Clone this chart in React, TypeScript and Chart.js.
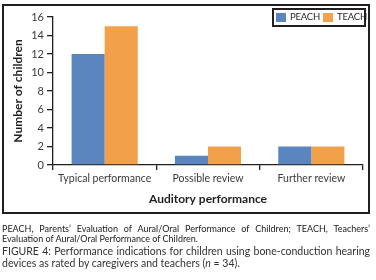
import React, { useEffect, useRef } from "react";
import { Chart, registerables } from "chart.js";

Chart.register(...registerables);

const categories = ["Typical performance", "Possible review", "Further review"];
const seriesNames = ["PEACH", "TEACH"];
const peachValues = [12, 1, 2];
const teachValues = [15, 2, 2];
const seriesColors = ["#5b85bf", "#f2a04a"];
const yMin = 0;
const yMax = 16;
const yStep = 2;
const xTitle = "Auditory performance";
const yTitle = "Number of children";

const FONT = "Lato, 'Open Sans', sans-serif";
const INK = "#231f20";

export default function App() {
  const canvasRef = useRef<HTMLCanvasElement | null>(null);

  useEffect(() => {
    const canvas = canvasRef.current;
    if (!canvas) return;
    const chart = new Chart(canvas, {
      type: "bar",
      data: {
        labels: categories,
        datasets: [
          {
            label: seriesNames[0],
            data: peachValues,
            backgroundColor: seriesColors[0],
            borderWidth: 0,
            categoryPercentage: 0.64,
            barPercentage: 1,
          },
          {
            label: seriesNames[1],
            data: teachValues,
            backgroundColor: seriesColors[1],
            borderWidth: 0,
            categoryPercentage: 0.64,
            barPercentage: 1,
          },
        ],
      },
      options: {
        animation: false,
        responsive: false,
        maintainAspectRatio: false,
        devicePixelRatio: 1,
        layout: { padding: { left: 0, right: 13, top: 17, bottom: 0 } },
        plugins: {
          legend: { display: false },
          tooltip: { enabled: false },
        },
        scales: {
          x: {
            grid: {
              display: true,
              drawOnChartArea: false,
              drawTicks: true,
              tickLength: 5,
              color: INK,
              lineWidth: 1.3,
              offset: true,
            },
            border: { display: true, color: INK, width: 1.3 },
            ticks: {
              font: { family: FONT, size: 10.5 },
              color: "#3a3a3a",
              padding: 2,
              maxRotation: 0,
              autoSkip: false,
            },
            title: {
              display: true,
              text: xTitle,
              font: { family: FONT, size: 12, weight: "bold" },
              color: INK,
              padding: { top: 0, bottom: 9 },
            },
            afterFit: (scale: any) => {
              scale.height = 50;
            },
          },
          y: {
            min: yMin,
            max: yMax,
            grid: {
              display: true,
              drawOnChartArea: false,
              drawTicks: true,
              tickLength: 6,
              color: INK,
              lineWidth: 1.3,
            },
            border: { display: true, color: INK, width: 1.3 },
            ticks: {
              stepSize: yStep,
              font: { family: FONT, size: 11 },
              color: "#3a3a3a",
              padding: 3,
            },
            title: {
              display: true,
              text: yTitle,
              font: { family: FONT, size: 12, weight: "bold" },
              color: INK,
              padding: { top: 11, bottom: 0 },
            },
            afterFit: (scale: any) => {
              scale.width = 53;
            },
          },
        },
      },
    });
    return () => chart.destroy();
  }, []);

  const swatch = (color: string, left: number) => ({
    position: "absolute" as const,
    left,
    top: 13,
    width: 10,
    height: 9,
    background: color,
  });
  const legendText = (left: number) => ({
    position: "absolute" as const,
    left,
    top: 11,
    fontSize: 9.5,
    lineHeight: "12px",
    color: INK,
    fontFamily: FONT,
    letterSpacing: "-0.2px",
  });

  return (
    <div
      style={{
        position: "absolute",
        left: 0,
        top: 0,
        width: 376,
        height: 280,
        background: "#fff",
        fontFamily: FONT,
        overflow: "hidden",
      }}
    >
      <canvas
        ref={canvasRef}
        width={376}
        height={215}
        style={{ position: "absolute", left: 0, top: 0, width: 376, height: 215 }}
      />
      <div
        style={{
          position: "absolute",
          left: 2,
          top: 4,
          width: 368,
          height: 210,
          boxSizing: "border-box",
          border: `2px solid ${INK}`,
          pointerEvents: "none",
        }}
      />
      <div
        style={{
          position: "absolute",
          left: 272,
          top: 8,
          width: 94,
          height: 19,
          boxSizing: "border-box",
          border: `2px solid ${INK}`,
        }}
      />
      <div style={swatch(seriesColors[0], 276)} />
      <div style={legendText(290)}>{seriesNames[0]}</div>
      <div style={swatch(seriesColors[1], 323)} />
      <div style={legendText(337)}>{seriesNames[1]}</div>

      <div
        style={{
          position: "absolute",
          left: 2,
          top: 224,
          width: 368,
          fontSize: 9,
          lineHeight: "9.5px",
          color: "#1a1a1a",
          textAlign: "justify",
          textAlignLast: "left" as any,
        }}
      >
        PEACH, Parents’ Evaluation of Aural/Oral Performance of Children; TEACH, Teachers’ Evaluation of Aural/Oral Performance of Children.
      </div>
      <div
        style={{
          position: "absolute",
          left: 2,
          top: 245,
          width: 368,
          fontSize: 10.5,
          lineHeight: "12px",
          color: "#333",
          textAlign: "justify",
          textAlignLast: "left" as any,
        }}
      >
        FIGURE 4: Performance indications for children using bone-conduction hearing devices as rated by caregivers and teachers (<i>n</i> = 34).
      </div>
    </div>
  );
}
